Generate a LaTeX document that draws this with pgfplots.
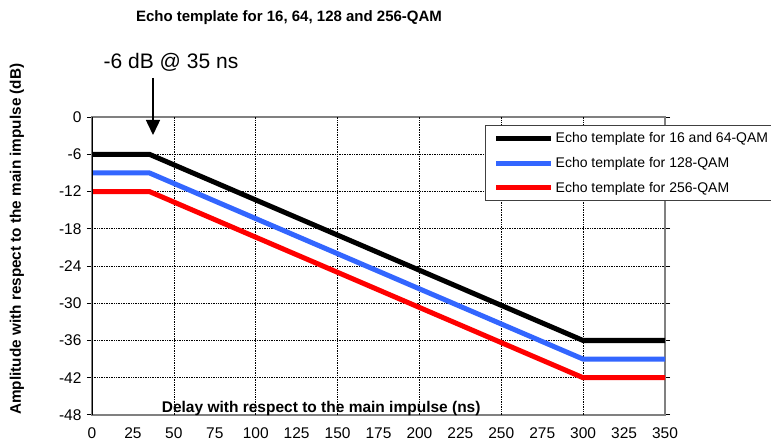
\documentclass[border=0pt]{standalone}
\usepackage{pgfplots}
\pgfplotsset{compat=1.18}
\usepackage{fontspec}
\setmainfont{Liberation Sans}
\usetikzlibrary{arrows.meta}
\definecolor{myblue}{RGB}{51,102,255}
\definecolor{myred}{RGB}{255,0,0}
\definecolor{framegray}{RGB}{128,128,128}
\begin{document}
\begin{tikzpicture}[x=1pt,y=1pt]
\useasboundingbox (0,0) rectangle (771,447);
\begin{axis}[
  at={(92pt,32pt)}, anchor=south west,
  scale only axis, width=573pt, height=298pt,
  xmin=0, xmax=350, ymin=-48, ymax=0,
  xtick={0,25,...,350},
  xticklabels={0,25,50,75,100,125,150,175,200,225,250,275,300,325,350},
  ytick={-48,-42,...,0},
  yticklabels={-48,-42,-36,-30,-24,-18,-12,-6,0},
  extra x ticks={50,100,150,200,250,300},
  extra x tick labels={},
  extra x tick style={grid=major, major tick length=0pt},
  ymajorgrids,
  grid style={black, densely dotted, line width=0.7pt},
  major grid style={black, densely dotted, line width=0.7pt},
  axis line style={framegray, line width=1.5pt},
  tick align=outside,
  xtick style={draw=none},
  ytick style={black, line width=1pt},
  major tick length=5pt,
  ticklabel style={font=\fontsize{15.5}{18}\selectfont},
  xticklabel style={yshift=-4pt},
  yticklabel style={xshift=-2pt},
  /pgf/number format/assume math mode=true,
  xlabel={Delay with respect to the main impulse (ns)},
  xlabel style={at={(axis description cs:0.4,0)}, anchor=base, yshift=2pt, font=\fontsize{15.5}{18}\selectfont\bfseries},
  ylabel={Amplitude with respect to the main impulse (dB)},
  ylabel style={at={(axis description cs:-0.131,0.59)}, anchor=center, font=\fontsize{15.3}{18}\selectfont\bfseries},
  legend style={at={(axis description cs:0.686,0.973)}, anchor=north west,
    draw=black!75, line width=1.2pt, fill=white,
    font=\fontsize{14}{16}\selectfont, row sep=9pt,
    inner xsep=8pt, inner ysep=5pt},
  legend cell align=left,
  legend image code/.code={\draw[#1, line width=5pt, line cap=butt] (0pt,0pt) -- (55pt,0pt);},
  every axis plot/.append style={line width=5pt, line join=round},
]
\addplot[black] coordinates {(0,-6) (35,-6) (300,-36) (350,-36)};
\addlegendentry{Echo template for 16 and 64-QAM}
\addplot[myblue] coordinates {(0,-9) (35,-9) (300,-39) (350,-39)};
\addlegendentry{Echo template for 128-QAM}
\addplot[myred] coordinates {(0,-12) (35,-12) (300,-42) (350,-42)};
\addlegendentry{Echo template for 256-QAM}
\draw[black, line width=1.5pt] (rel axis cs:0,0) -- (rel axis cs:0,1);
\end{axis}
\node[font=\fontsize{15}{18}\selectfont\bfseries] at (289,429) {Echo template for 16, 64, 128 and 256-QAM};
\node[font=\fontsize{21}{24}\selectfont, anchor=base] at (171,378) {-6 dB @ 35 ns};
\draw[-{Triangle[width=14pt,length=15pt]}, line width=1.5pt] (153,369) -- (153,312);
\end{tikzpicture}
\end{document}
